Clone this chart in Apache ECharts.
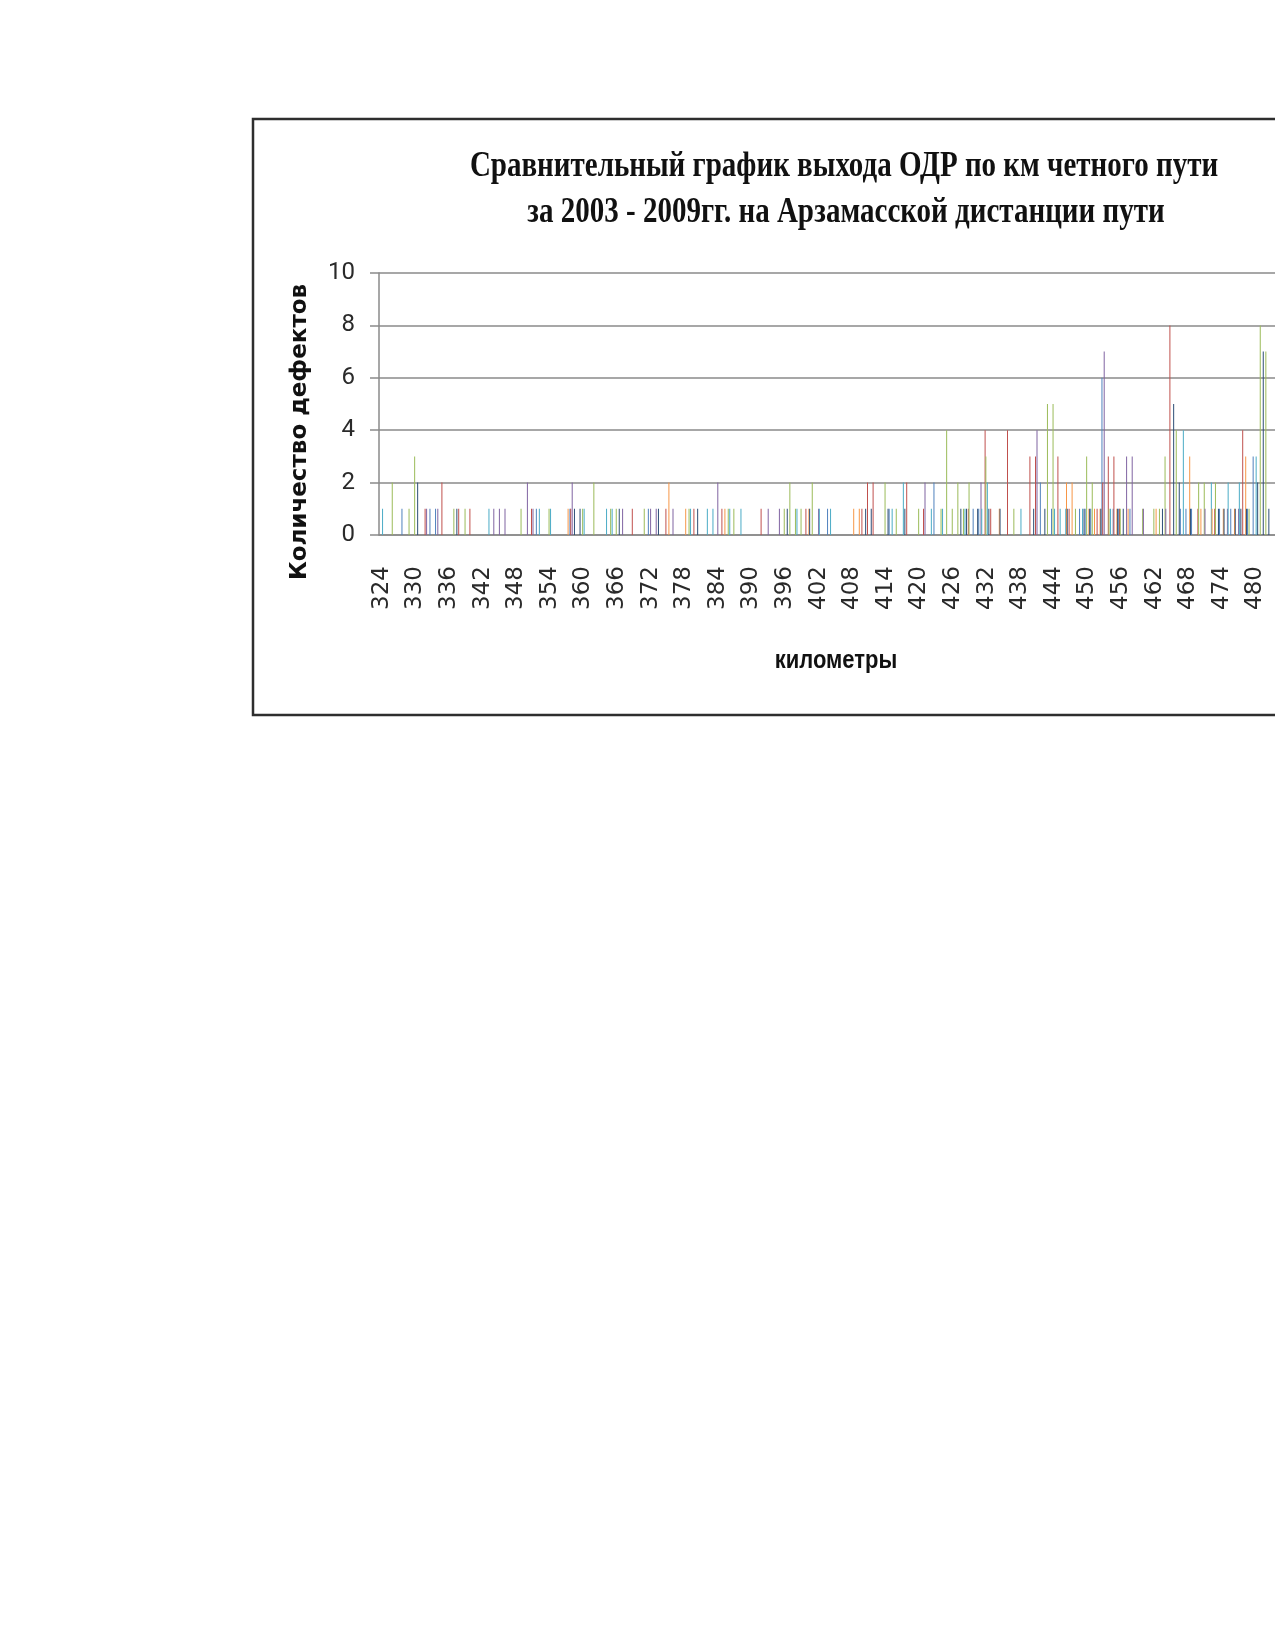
<!DOCTYPE html>
<html>
<head>
<meta charset="utf-8">
<script src="https://cdn.jsdelivr.net/npm/echarts@6/dist/echarts.min.js"></script>
<style>
html,body{margin:0;padding:0;background:#fff;overflow:hidden;}
#chart{position:absolute;left:0;top:0;width:1275px;height:1650px;}
</style>
</head>
<body>
<div id="chart"></div>
<script>
// Categories: kilometres 324..483
const kmStart = 324;
const kmEnd = 483;
const yTicks = [0, 2, 4, 6, 8, 10];
const seriesNames = ['2003', '2004', '2005', '2006', '2007', '2008', '2009'];

// [km, defects] pairs (km not listed = 0)
const s2003 = [[328,1],[333,1],[334,1],[352,1],[358,1],[372,1],[404,1],[415,1],[423,2],[430,1],[431,1],[442,2],[444,1],[449,1],[450,1],[451,1],[453,6],[455,1],[456,1],[458,1],[467,1],[468,1],[469,1],[474,1],[476,1],[479,1],[480,3]];
const s2004 = [[332,1],[335,2],[338,1],[340,1],[351,1],[358,1],[369,1],[375,1],[380,1],[385,1],[392,1],[400,1],[410,1],[411,2],[412,2],[418,2],[421,1],[429,1],[432,4],[433,1],[436,4],[440,3],[441,3],[445,3],[447,1],[452,1],[453,2],[454,3],[455,3],[456,1],[465,8],[470,1],[473,1],[478,4]];
const s2005 = [[326,2],[329,1],[330,3],[337,1],[339,1],[349,1],[354,1],[360,1],[362,2],[365,1],[366,1],[371,1],[379,1],[386,1],[387,1],[396,1],[397,2],[398,1],[399,1],[401,2],[414,2],[416,1],[420,1],[424,1],[425,4],[426,1],[427,2],[428,1],[429,2],[432,3],[437,1],[443,5],[444,5],[448,1],[450,3],[451,2],[454,1],[456,1],[460,1],[462,1],[463,1],[464,3],[466,4],[470,2],[471,2],[473,2],[479,1],[481,8],[482,7]];
const s2006 = [[332,1],[334,1],[344,1],[345,1],[346,1],[350,2],[351,1],[358,2],[367,1],[372,1],[373,1],[376,1],[384,2],[393,1],[395,1],[402,1],[421,2],[431,2],[441,4],[453,7],[457,3],[458,3],[460,1],[464,1],[471,1],[475,1],[477,1]];
const s2007 = [[324,1],[343,1],[352,1],[354,1],[360,1],[364,1],[365,1],[379,1],[382,1],[383,1],[386,1],[388,1],[398,1],[402,1],[404,1],[415,1],[417,2],[422,1],[424,1],[428,1],[431,1],[432,2],[438,1],[444,1],[445,1],[446,1],[449,1],[454,1],[467,4],[472,2],[475,2],[477,2],[480,3]];
const s2008 = [[357,1],[375,2],[378,1],[385,1],[400,1],[408,1],[409,1],[434,1],[446,2],[447,2],[450,1],[451,1],[452,1],[455,1],[457,1],[462,1],[468,3],[470,1],[472,1],[474,1],[476,1],[478,3]];
const s2009 = [[330,2],[337,1],[358,1],[359,1],[366,1],[373,1],[380,1],[396,1],[400,1],[410,1],[411,1],[414,1],[417,1],[427,1],[428,1],[430,1],[432,1],[434,1],[440,1],[442,1],[446,1],[449,1],[450,1],[452,1],[455,1],[456,1],[463,1],[465,5],[466,2],[468,1],[473,1],[474,1],[476,1],[477,1],[478,1],[480,2],[481,7],[482,1]];

const colors = ['#4F81BD', '#C0504D', '#9BBB59', '#8064A2', '#4BACC6', '#F79646', '#2C4D75'];

const categories = [];
for (let k = kmStart; k <= kmEnd; k++) categories.push(String(k));

function expand(pairs) {
  const arr = categories.map(() => 0);
  pairs.forEach(([km, v]) => { arr[km - kmStart] = v; });
  return arr;
}
const allSeries = [s2003, s2004, s2005, s2006, s2007, s2008, s2009];

const chart = echarts.init(document.getElementById('chart'), null, {renderer: 'canvas'});
chart.setOption({
  animation: false,
  backgroundColor: '#ffffff',
  color: colors,
  grid: {left: 379, top: 273, width: 901, height: 262},
  xAxis: {
    type: 'category',
    data: categories,
    axisLine: {show: true, lineStyle: {color: '#8a8a8a', width: 1.5}},
    axisTick: {show: false},
    axisLabel: {
      interval: 5, rotate: 90, margin: 31,
      fontFamily: 'DejaVu Sans', fontSize: 23, color: '#2a2a2a'
    },
    splitLine: {show: false}
  },
  yAxis: {
    type: 'value',
    min: yTicks[0], max: yTicks[yTicks.length - 1], interval: 2,
    axisLine: {show: true, lineStyle: {color: '#8a8a8a', width: 1.5}},
    axisTick: {show: true, length: 9, lineStyle: {color: '#8a8a8a', width: 1.5}},
    axisLabel: {
      margin: 24,
      fontFamily: 'Roboto, sans-serif',
      fontSize: 24, color: '#2a2a2a'
    },
    splitLine: {show: true, lineStyle: {color: '#8a8a8a', width: 1.5}}
  },
  series: allSeries.map((pairs, i) => ({
    name: seriesNames[i],
    type: 'bar',
    data: expand(pairs),
    barWidth: 1,
    barGap: '-25%',
    itemStyle: {color: colors[i]}
  })),
  graphic: [
    {type: 'rect', z: 0, silent: true,
     shape: {x: 253, y: 119, width: 1100, height: 596},
     style: {fill: 'none', stroke: '#2e2e2e', lineWidth: 2.5}},
    {type: 'text', x: 844, y: 167, scaleY: 1.22,
     style: {text: 'Сравнительный график выхода ОДР по км четного пути',
             font: 'bold 29px "Liberation Serif"', fill: '#111',
             textAlign: 'center', textVerticalAlign: 'middle'}},
    {type: 'text', x: 846, y: 213, scaleY: 1.22,
     style: {text: 'за 2003 - 2009гг. на Арзамасской дистанции пути',
             font: 'bold 29px "Liberation Serif"', fill: '#111',
             textAlign: 'center', textVerticalAlign: 'middle'}},
    {type: 'text', x: 300, y: 432, rotation: Math.PI / 2,
     style: {text: 'Количество дефектов',
             font: 'bold 23px "DejaVu Sans"', fill: '#111',
             textAlign: 'center', textVerticalAlign: 'middle'}},
    {type: 'text', x: 836, y: 661, scaleY: 1.15,
     style: {text: 'километры',
             font: 'bold 22px "Liberation Sans"', fill: '#111',
             textAlign: 'center', textVerticalAlign: 'middle'}}
  ]
});
</script>
</body>
</html>
